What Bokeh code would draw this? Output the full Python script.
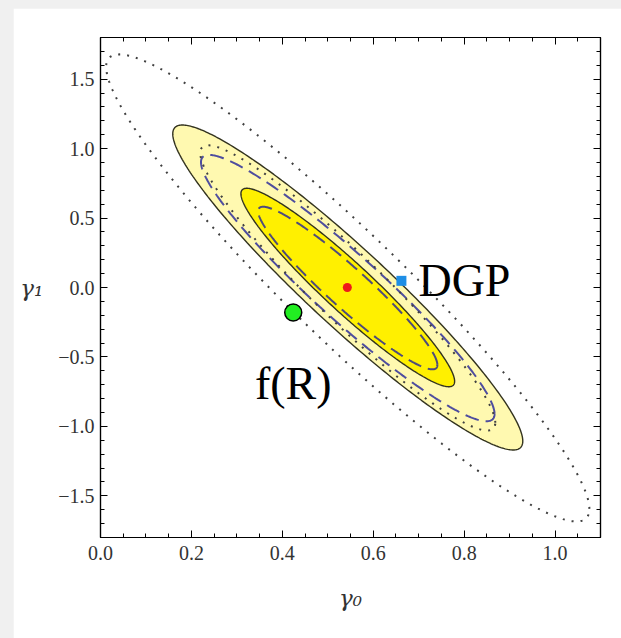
import numpy as np
from bokeh.plotting import figure
from bokeh.models import (FixedTicker, LinearAxis, Label, CustomJSTickFormatter,
                          Range1d)
from bokeh.layouts import column
from bokeh.embed import file_html
from bokeh.resources import INLINE

# Confidence regions: three parameter sets, each drawn at the 1- and 2-sigma levels
region_names = ["solid", "dashed", "dotted"]
center_g0 = [0.544, 0.544, 0.544]
center_g1 = [0.0, -0.004, -0.003]
sigma_g0 = [0.155, 0.130, 0.214]
sigma_g1 = [0.471, 0.386, 0.677]
rho = [-0.945, -0.945, -0.946]
delta_chi2 = [2.30, 6.17]

# Marked models
point_names = ["best fit", "DGP", "f(R)"]
point_g0 = [0.543, 0.662, 0.424]
point_g1 = [0.0, 0.048, -0.18]

# Axis ticks and titles
x_major = [0.0, 0.2, 0.4, 0.6, 0.8, 1.0]
x_minor = [round(0.05 * i, 2) for i in range(23)]
y_major = [-1.5, -1.0, -0.5, 0.0, 0.5, 1.0, 1.5]
y_minor = [round(-1.8 + 0.1 * i, 1) for i in range(37)]
x_title = "γ₀"
y_title = "γ₁"

W, H = 608, 630


def ellipse(i, level, n=361):
    """Contour of a bivariate Gaussian at the given delta chi^2."""
    sx, sy, r = sigma_g0[i], sigma_g1[i], rho[i]
    cov = np.array([[sx * sx, r * sx * sy], [r * sx * sy, sy * sy]])
    L = np.linalg.cholesky(cov)
    t = np.linspace(0, 2 * np.pi, n)
    pts = np.sqrt(level) * (L @ np.vstack([np.cos(t), np.sin(t)]))
    return pts[0] + center_g0[i], pts[1] + center_g1[i]


p = figure(width=W, height=H,
           x_range=Range1d(0, 1.1), y_range=Range1d(-1.8, 1.8),
           output_backend="svg", toolbar_location=None,
           min_border_left=87, min_border_right=21,
           min_border_top=29, min_border_bottom=101,
           background_fill_color="white", border_fill_color="white")
p.margin = (8, 0, 0, 13)
p.grid.visible = False
p.outline_line_color = "black"
p.outline_line_width = 1.2

fmt = CustomJSTickFormatter(code="return tick.toFixed(1).replace('-', '\u2212');")
blank = CustomJSTickFormatter(code="return '';")

xt = FixedTicker(ticks=x_major, minor_ticks=x_minor)
yt = FixedTicker(ticks=y_major, minor_ticks=y_minor)

p.add_layout(LinearAxis(), "above")
p.add_layout(LinearAxis(), "right")

for ax in p.xaxis + p.yaxis:
    ax.axis_line_color = "black"
    ax.axis_line_width = 1.2
    ax.major_tick_in = 7
    ax.major_tick_out = 0
    ax.minor_tick_in = 4
    ax.minor_tick_out = 0
    ax.major_tick_line_color = "black"
    ax.minor_tick_line_color = "black"
    ax.major_label_text_font = "Liberation Serif"
    ax.major_label_text_font_size = "20px"
    ax.major_label_text_color = "#333333"
    ax.formatter = fmt
    ax.axis_label_text_font = "DejaVu Serif"
    ax.axis_label_text_font_style = "italic"
    ax.axis_label_text_font_size = "23px"
    ax.axis_label_text_color = "#333333"

for ax in p.xaxis:
    ax.ticker = xt
    ax.major_label_standoff = 8
for ax in p.yaxis:
    ax.ticker = yt
    ax.major_label_standoff = 6

for ax in (p.above[0], p.right[0]):
    ax.formatter = blank
    ax.major_label_standoff = 0

p.below[0].axis_label = x_title
p.below[0].axis_label_standoff = 22
p.left[0].axis_label = y_title
p.left[0].axis_label_orientation = "horizontal"
p.left[0].axis_label_standoff = 12

# Filled solid regions: 2-sigma light, 1-sigma bright
xs, ys = ellipse(0, delta_chi2[1])
p.patch(xs, ys, fill_color="#FFF9B0", line_color="#33331f", line_width=1.4)
xs, ys = ellipse(0, delta_chi2[0])
p.patch(xs, ys, fill_color="#FFF000", line_color="#33331f", line_width=1.4)

# Dashed regions (translucent blue)
for lv in delta_chi2:
    xs, ys = ellipse(1, lv)
    p.line(xs, ys, line_color="#22229a", line_alpha=0.8, line_width=2.0,
           line_dash="14 7")

# Dotted regions
for lv in delta_chi2:
    xs, ys = ellipse(2, lv)
    p.line(xs, ys, line_color="#404040", line_width=2.0, line_dash="2 7")

# Model points
p.scatter([point_g0[0]], [point_g1[0]], marker="circle", size=9,
          fill_color="#ee1a1a", line_color=None)
p.scatter([point_g0[1]], [point_g1[1]], marker="square", size=10,
          fill_color="#1e8ee6", line_color=None)
p.scatter([point_g0[2]], [point_g1[2]], marker="circle", size=17,
          fill_color="#22ee22", line_color="black", line_width=1.5)

p.add_layout(Label(x=point_g0[1], y=point_g1[1], x_offset=17, y_offset=0,
                   text=point_names[1], text_font="Liberation Serif",
                   text_font_size="46px", text_color="black",
                   text_align="left", text_baseline="alphabetic"))
p.add_layout(Label(x=point_g0[2], y=point_g1[2], x_offset=0, y_offset=-71,
                   text=point_names[2], text_font="Liberation Serif",
                   text_font_size="46px", text_color="black",
                   text_align="center", text_baseline="alphabetic"))

page = column(p, styles={"background-color": "#f0f0f0"})
open("out.html", "w").write(file_html(page, INLINE))
